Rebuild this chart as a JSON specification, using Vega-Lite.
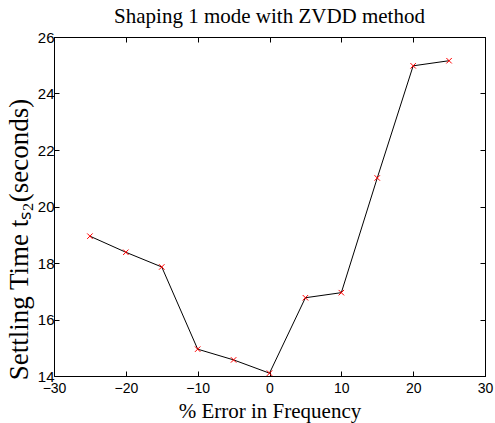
{
  "$schema": "https://vega.github.io/schema/vega-lite/v6.json",
  "width": 431,
  "height": 339,
  "autosize": {"type": "none"},
  "padding": {"left": 54, "top": 37, "right": 10, "bottom": 47},
  "background": "white",
  "title": {
    "text": "Shaping 1 mode with ZVDD method",
    "font": "Liberation Serif",
    "fontSize": 21,
    "fontWeight": "normal",
    "color": "black",
    "anchor": "middle",
    "baseline": "alphabetic",
    "offset": 12,
    "dy": 26
  },
  "data": {
    "values": [
      {"error": -25, "time": 18.95},
      {"error": -20, "time": 18.38},
      {"error": -15, "time": 17.86},
      {"error": -10, "time": 14.95},
      {"error": -5, "time": 14.57},
      {"error": 0, "time": 14.1},
      {"error": 5, "time": 16.77},
      {"error": 10, "time": 16.95},
      {"error": 15, "time": 21.01},
      {"error": 20, "time": 24.98},
      {"error": 25, "time": 25.16}
    ]
  },
  "layer": [
    {
      "mark": {
        "type": "line",
        "color": "black",
        "strokeWidth": 1,
        "point": {
          "shape": "M-1,-1L1,1M-1,1L1,-1",
          "size": 30,
          "stroke": "#ff0000",
          "strokeWidth": 1,
          "filled": false,
          "opacity": 1
        }
      },
      "encoding": {
        "x": {
          "field": "error",
          "type": "quantitative",
          "scale": {"domain": [-30, 30], "nice": false, "zero": false},
          "axis": {
            "orient": "bottom",
            "values": [-30, -20, -10, 0, 10, 20, 30],
            "title": "% Error in Frequency",
            "titleY": 41,
            "titleBaseline": "alphabetic",
            "labelPadding": 10
          }
        },
        "y": {
          "field": "time",
          "type": "quantitative",
          "scale": {"domain": [14, 26], "nice": false, "zero": false},
          "axis": {
            "orient": "left",
            "values": [14, 16, 18, 20, 22, 24, 26],
            "title": "Settling Time tₛ₂(seconds)",
            "titleFontSize": 27,
            "titleX": -27,
            "titleY": 202,
            "titleAlign": "center",
            "titleBaseline": "alphabetic",
            "titleAngle": -90,
            "labelFontSize": 15,
            "labelPadding": 5
          }
        }
      }
    },
    {
      "mark": {"type": "point", "opacity": 0},
      "encoding": {
        "x": {
          "field": "error",
          "type": "quantitative",
          "scale": {"domain": [-30, 30], "nice": false, "zero": false},
          "axis": {
            "orient": "top",
            "values": [-30, -20, -10, 0, 10, 20, 30],
            "labels": false,
            "title": null
          }
        },
        "y": {
          "field": "time",
          "type": "quantitative",
          "scale": {"domain": [14, 26], "nice": false, "zero": false},
          "axis": {
            "orient": "right",
            "values": [14, 16, 18, 20, 22, 24, 26],
            "labels": false,
            "title": null
          }
        }
      }
    }
  ],
  "resolve": {"axis": {"x": "independent", "y": "independent"}},
  "config": {
    "view": {"stroke": "black", "strokeWidth": 1},
    "axis": {
      "grid": false,
      "domainColor": "black",
      "domainWidth": 1,
      "tickColor": "black",
      "tickWidth": 1,
      "tickSize": -5,
      "labelFont": "Liberation Sans",
      "labelFontSize": 14,
      "labelColor": "black",
      "labelFlush": false,
      "labelOverlap": false,
      "titleFont": "Liberation Serif",
      "titleFontSize": 21,
      "titleFontWeight": "normal",
      "titleColor": "black"
    }
  }
}
